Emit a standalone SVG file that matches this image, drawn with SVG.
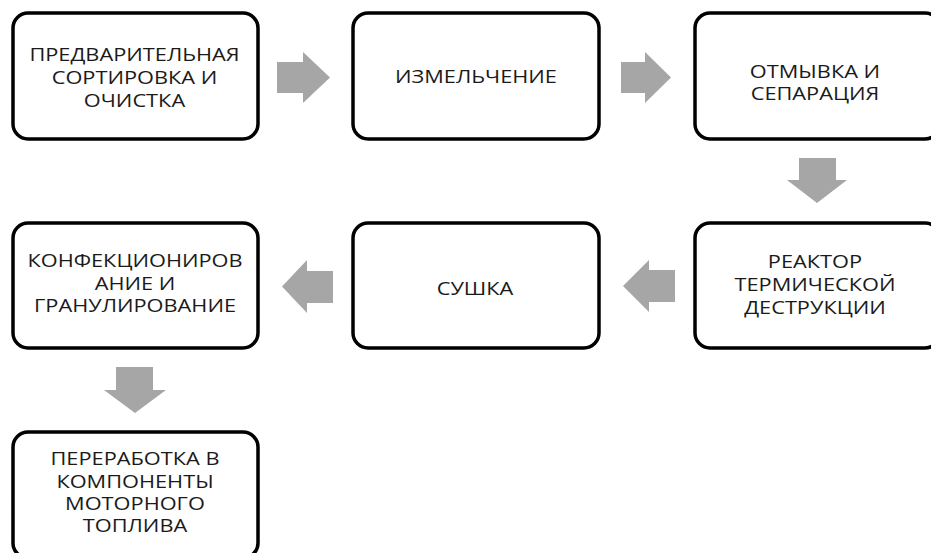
<svg xmlns="http://www.w3.org/2000/svg" width="931" height="553" viewBox="0 0 931 553">
<style>
.box{fill:#fff;stroke:#000;stroke-width:3.5}
.arr{fill:#a6a6a6}
text{font-family:"Open Sans","Liberation Sans",sans-serif;font-size:18px;fill:#1a1a1a;text-anchor:middle}
</style>
<rect width="931" height="553" fill="#fff"/>
<g id="connectors">
<polygon class="arr" points="277,62 303,62 303,52 330,77.5 303,103 303,93 277,93"/>
<polygon class="arr" points="621,62 645,62 645,52 671,77.5 645,103 645,93 621,93"/>
<polygon class="arr" points="799,158 836,158 836,180 847,180 817,203 787,180 799,180"/>
<polygon class="arr" points="675,270 649,270 649,260 623,286 649,312 649,302 675,302"/>
<polygon class="arr" points="333,271 307,271 307,260 282,286.5 307,313 307,303 333,303"/>
<polygon class="arr" points="116,367 153,367 153,390 166,390 135,413 104,390 116,390"/>
</g>
<g id="n1"><rect class="box" x="13" y="13" width="245" height="126" rx="15"/>
<text transform="translate(134.5,60.5) scale(1.21,1)"><tspan x="0" y="0">ПРЕДВАРИТЕЛЬНАЯ</tspan><tspan x="0" y="23.5">СОРТИРОВКА И</tspan><tspan x="0" y="46.5">ОЧИСТКА</tspan></text></g>
<g id="n2"><rect class="box" x="353" y="13" width="246" height="126" rx="15"/>
<text transform="translate(476,83) scale(1.21,1)">ИЗМЕЛЬЧЕНИЕ</text></g>
<g id="n3"><rect class="box" x="695" y="13" width="245" height="126" rx="15"/>
<text transform="translate(815,78) scale(1.21,1)"><tspan x="0" y="0">ОТМЫВКА И</tspan><tspan x="0" y="22">СЕПАРАЦИЯ</tspan></text></g>
<g id="n4"><rect class="box" x="695" y="223" width="245" height="125" rx="15"/>
<text transform="translate(815,268) scale(1.21,1)"><tspan x="0" y="0">РЕАКТОР</tspan><tspan x="0" y="23">ТЕРМИЧЕСКОЙ</tspan><tspan x="0" y="46">ДЕСТРУКЦИИ</tspan></text></g>
<g id="n5"><rect class="box" x="353" y="223" width="246" height="125" rx="15"/>
<text transform="translate(475,295) scale(1.21,1)">СУШКА</text></g>
<g id="n6"><rect class="box" x="13" y="223" width="245" height="125" rx="15"/>
<text transform="translate(135,267) scale(1.21,1)"><tspan x="0" y="0">КОНФЕКЦИОНИРОВ</tspan><tspan x="0" y="23">АНИЕ И</tspan><tspan x="0" y="45">ГРАНУЛИРОВАНИЕ</tspan></text></g>
<g id="n7"><rect class="box" x="13" y="432" width="245" height="126" rx="15"/>
<text transform="translate(135,465) scale(1.21,1)"><tspan x="0" y="0">ПЕРЕРАБОТКА В</tspan><tspan x="0" y="23">КОМПОНЕНТЫ</tspan><tspan x="0" y="45">МОТОРНОГО</tspan><tspan x="0" y="67">ТОПЛИВА</tspan></text></g>
</svg>
